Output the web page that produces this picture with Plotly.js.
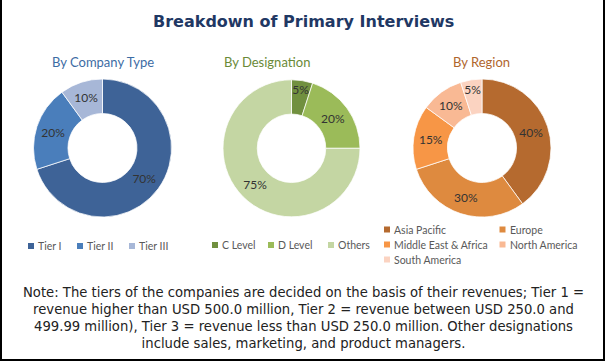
<!DOCTYPE html>
<html>
<head>
<meta charset="utf-8">
<script src="https://cdn.plot.ly/plotly-3.0.1.min.js"></script>
<style>
  html, body { margin: 0; padding: 0; background: #ffffff; }
  #chart { width: 606px; height: 362px; }
</style>
</head>
<body>
<div id="chart"></div>
<script>
// ---- Data ----
const companyTypes = ['Tier I', 'Tier II', 'Tier III'];
const companyShares = [70, 20, 10];

const designations = ['C Level', 'D Level', 'Others'];
const designationShares = [5, 20, 75];

const regions = ['Asia Pacific', 'Europe', 'Middle East & Africa', 'North America', 'South America'];
const regionShares = [40, 30, 15, 10, 5];

const chartTitle = 'Breakdown of Primary Interviews';
const panelTitles = ['By Company Type', 'By Designation', 'By Region'];
const noteText = 'Note: The tiers of the companies are decided on the basis of their revenues; Tier 1 =<br>' +
  'revenue higher than USD 500.0 million, Tier 2 = revenue between USD 250.0 and<br>' +
  '499.99 million), Tier 3 = revenue less than USD 250.0 million. Other designations<br>' +
  'include sales, marketing, and product managers.';

// ---- Styles ----
const blueColors = ['#3E6397', '#4A7EBB', '#A7B7D7'];
const greenColors = ['#71903F', '#9BBB59', '#C4D6A3'];
const orangeColors = ['#B56A2F', '#DE8A3F', '#F79646', '#F9B994', '#FBD3C1'];
const panelTitleColors = ['#3C6CA4', '#6A8A38', '#B0662D'];

const W = 606, H = 362;
const px = v => v / W;            // x pixel -> paper
const py = v => 1 - v / H;        // y pixel (from top) -> paper

function donutDomain(cx, cy, r) {
  return { x: [px(cx - r), px(cx + r)], y: [py(cy + r), py(cy - r)] };
}

const labelFont = { family: 'Lato, "Open Sans", sans-serif', size: 12, color: '#333333' };
const legendFont = { family: 'Lato, "Open Sans", sans-serif', size: 10.5, color: '#595959' };

function donut(labels, values, colors, domain) {
  return {
    type: 'pie',
    labels: labels,
    values: values,
    hole: 0.5,
    sort: false,
    direction: 'clockwise',
    rotation: 0,
    domain: domain,
    marker: { colors: colors, line: { color: '#ffffff', width: 0.75 } },
    texttemplate: '%{value}%',
    textposition: 'inside',
    insidetextorientation: 'horizontal',
    textfont: labelFont,
    hoverinfo: 'label+percent',
    showlegend: false
  };
}

const data = [
  donut(companyTypes, companyShares, blueColors, donutDomain(102.5, 148, 69)),
  donut(designations, designationShares, greenColors, donutDomain(291.5, 148.3, 68.5)),
  donut(regions, regionShares, orangeColors, donutDomain(482, 148, 69))
];

// ---- Legend layout (positions of legend keys, in pixels) ----
const legendKeyPos = [
  [[28, 246], [77, 246], [129, 246]],
  [[212, 245], [268, 245], [328, 245]],
  [[384, 229.5], [499.5, 229.5], [384, 244.5], [499.5, 244.5], [384, 259.5]]
];
const keySize = 6, keyTextGap = 9;

const annotations = [
  {
    text: '<b>' + chartTitle + '</b>',
    xref: 'paper', yref: 'paper', x: px(303), y: py(21.5),
    xanchor: 'center', yanchor: 'middle', showarrow: false,
    font: { family: '"DejaVu Sans", Verdana, sans-serif', size: 16, color: '#1F3864' }
  },
  {
    text: noteText, xref: 'paper', yref: 'paper', x: px(303), y: py(317.5),
    xanchor: 'center', yanchor: 'middle', align: 'center', showarrow: false,
    font: { family: '"DejaVu Sans", Verdana, sans-serif', size: 13.2, color: '#222222' }
  }
];
const panelTitleX = [102.5, 267, 481];
panelTitles.forEach((t, i) => annotations.push({
  text: t, xref: 'paper', yref: 'paper', x: px(panelTitleX[i]), y: py(62),
  xanchor: 'center', yanchor: 'middle', showarrow: false,
  font: { family: 'Lato, "Open Sans", sans-serif', size: 13, color: panelTitleColors[i] }
}));

const shapes = [
  { type: 'line', xref: 'paper', yref: 'paper', x0: px(1), x1: px(1), y0: py(0), y1: py(361), line: { color: '#000000', width: 2 } },
  { type: 'line', xref: 'paper', yref: 'paper', x0: px(604), x1: px(604), y0: py(0), y1: py(361), line: { color: '#000000', width: 2 } },
  { type: 'line', xref: 'paper', yref: 'paper', x0: px(0), x1: px(605), y0: py(360), y1: py(360), line: { color: '#000000', width: 2 } }
];

const legendSets = [
  [companyTypes, blueColors],
  [designations, greenColors],
  [regions, orangeColors]
];
legendSets.forEach(([labels, colors], p) => {
  labels.forEach((lab, i) => {
    const [kx, ky] = legendKeyPos[p][i];
    shapes.push({
      type: 'rect', xref: 'paper', yref: 'paper',
      x0: px(kx), x1: px(kx + keySize), y0: py(ky + keySize / 2), y1: py(ky - keySize / 2),
      fillcolor: colors[i], line: { width: 0 }
    });
    annotations.push({
      text: lab, xref: 'paper', yref: 'paper', x: px(kx + keyTextGap), y: py(ky),
      xanchor: 'left', yanchor: 'middle', showarrow: false, borderpad: 0,
      font: legendFont
    });
  });
});

const layout = {
  width: W,
  height: H,
  margin: { l: 0, r: 0, t: 0, b: 0, pad: 0, autoexpand: false },
  paper_bgcolor: '#ffffff',
  plot_bgcolor: '#ffffff',
  showlegend: false,
  uniformtext: { mode: 'show', minsize: 12 },
  annotations: annotations,
  shapes: shapes
};

Plotly.newPlot('chart', data, layout, { displayModeBar: false, responsive: false });
</script>
</body>
</html>
